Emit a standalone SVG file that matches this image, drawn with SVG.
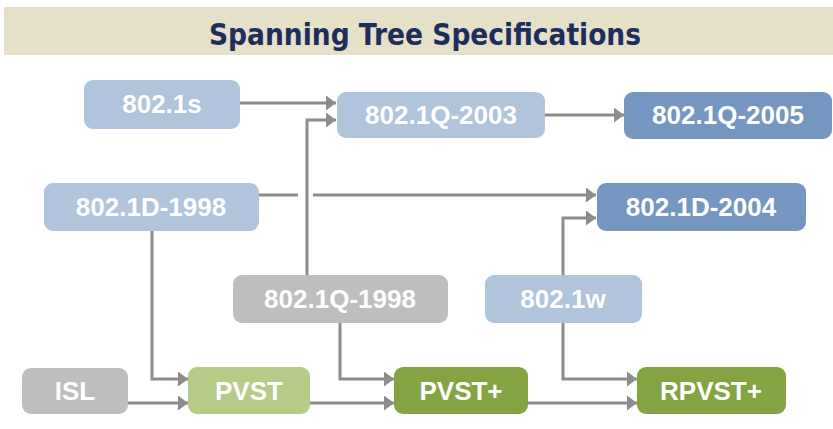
<svg xmlns="http://www.w3.org/2000/svg" width="833" height="429" viewBox="0 0 833 429">
<defs>
<style>
.n text{font-family:"Liberation Sans",Arial,sans-serif;font-weight:bold;font-size:26px;fill:#ffffff;text-anchor:middle}
.lb{fill:#B0C4DC}
.db{fill:#7496C0}
.gr{fill:#BEBEBE}
.lg{fill:#B6CB88}
.dg{fill:#84A343}
.c path{fill:none;stroke:#8C8C8C;stroke-width:3}
</style>
<marker id="ah" markerUnits="userSpaceOnUse" markerWidth="12" markerHeight="16" refX="10" refY="7.5" orient="auto">
<path d="M0,0 L10,7.5 L0,15 Z" fill="#8C8C8C"/>
</marker>
</defs>
<rect width="833" height="429" fill="#ffffff"/>
<g id="title">
<rect x="4" y="7" width="829" height="48" fill="#E4E1C8"/>
<text x="425" y="45" font-family="DejaVu Sans,Verdana,sans-serif" font-weight="bold" font-size="31" fill="#1F2D5C" text-anchor="middle" textLength="432" lengthAdjust="spacingAndGlyphs">Spanning Tree Specifications</text>
</g>
<g id="connectors" class="c">
<path d="M240,103 H336" marker-end="url(#ah)"/>
<path d="M307,275 V120 H336" marker-end="url(#ah)"/>
<path d="M545,115 H624" marker-end="url(#ah)"/>
<path d="M259,195 H298 M313,195 H596" marker-end="url(#ah)"/>
<path d="M563,275 V218 H596" marker-end="url(#ah)"/>
<path d="M152,231 V379 H188" marker-end="url(#ah)"/>
<path d="M128,403 H188" marker-end="url(#ah)"/>
<path d="M340,323 V379 H394" marker-end="url(#ah)"/>
<path d="M310,403 H394" marker-end="url(#ah)"/>
<path d="M563,323 V379 H637" marker-end="url(#ah)"/>
<path d="M528,403 H637" marker-end="url(#ah)"/>
</g>
<g id="n802_1s" class="n"><rect class="lb" x="84" y="80" width="156" height="49" rx="9"/><text x="162" y="113">802.1s</text></g>
<g id="n802_1Q_2003" class="n"><rect class="lb" x="337" y="92" width="208" height="46" rx="9"/><text x="441" y="124">802.1Q-2003</text></g>
<g id="n802_1Q_2005" class="n"><rect class="db" x="624" y="92" width="208" height="47" rx="9"/><text x="728" y="124">802.1Q-2005</text></g>
<g id="n802_1D_1998" class="n"><rect class="lb" x="44" y="183" width="215" height="48" rx="9"/><text x="151" y="216">802.1D-1998</text></g>
<g id="n802_1D_2004" class="n"><rect class="db" x="597" y="183" width="209" height="48" rx="9"/><text x="701" y="216">802.1D-2004</text></g>
<g id="n802_1Q_1998" class="n"><rect class="gr" x="233" y="275" width="215" height="48" rx="9"/><text x="340" y="308">802.1Q-1998</text></g>
<g id="n802_1w" class="n"><rect class="lb" x="485" y="275" width="157" height="48" rx="9"/><text x="563" y="308">802.1w</text></g>
<g id="nISL" class="n"><rect class="gr" x="22" y="368" width="106" height="46" rx="9"/><text x="75" y="400">ISL</text></g>
<g id="nPVST" class="n"><rect class="lg" x="188" y="367" width="122" height="47" rx="9"/><text x="249" y="400">PVST</text></g>
<g id="nPVSTplus" class="n"><rect class="dg" x="394" y="367" width="134" height="47" rx="9"/><text x="461" y="400">PVST+</text></g>
<g id="nRPVSTplus" class="n"><rect class="dg" x="637" y="367" width="149" height="47" rx="9"/><text x="711" y="400">RPVST+</text></g>
</svg>
